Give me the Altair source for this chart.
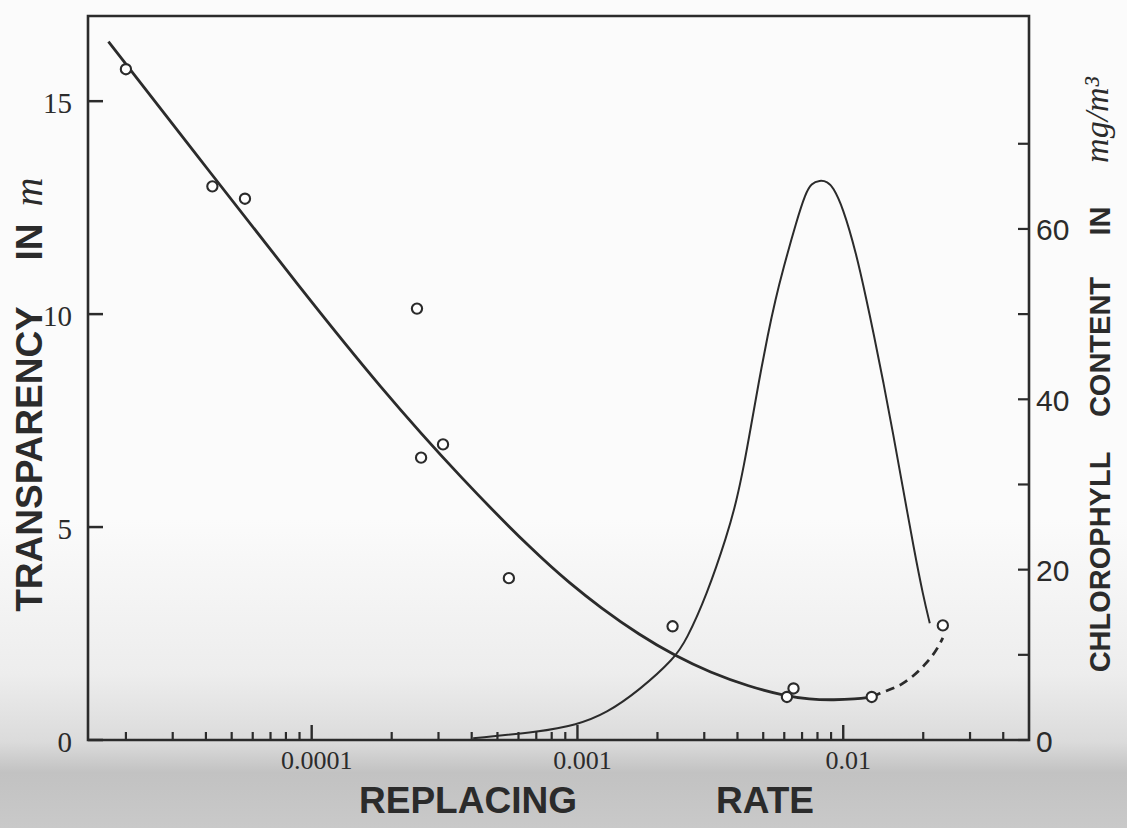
import altair as alt
import pandas as pd

# ---------------- data ----------------
# transparency observations (open circles)
obs_rate = [2.0e-5, 4.23e-5, 5.61e-5, 2.49e-4, 2.58e-4, 3.12e-4, 5.52e-4,
            2.28e-3, 6.14e-3, 6.5e-3, 1.28e-2, 2.37e-2]
obs_transp = [15.75, 13.0, 12.71, 10.13, 6.63, 6.94, 3.80,
              2.67, 1.01, 1.21, 1.01, 2.69]

# transparency fitted curve (solid)
fit_rate = [1.719e-5, 4.147e-5, 9.04e-5, 1.806e-4, 3.715e-4, 7.015e-4,
            9.36e-4, 1.213e-3, 1.715e-3, 2.342e-3, 3.144e-3, 4.444e-3,
            5.93e-3, 7.47e-3, 9.28e-3, 1.103e-2, 1.285e-2]
fit_transp = [16.40, 13.33, 10.62, 8.28, 6.09, 4.36,
              3.68, 3.12, 2.46, 1.97, 1.59, 1.25,
              1.05, 0.95, 0.94, 0.96, 1.01]

# transparency extrapolation (dashed)
ext_rate = [1.285e-2, 1.369e-2, 1.675e-2, 1.992e-2, 2.30e-2, 2.37e-2]
ext_transp = [1.01, 1.09, 1.33, 1.72, 2.24, 2.40]

# chlorophyll curve (right axis, mg/m3)
chl_rate = [4.05e-4, 7.22e-4, 9.91e-4, 1.285e-3, 1.714e-3, 2.32e-3, 2.567e-3,
            3.050e-3, 3.677e-3, 3.973e-3, 4.222e-3, 4.494e-3, 4.800e-3,
            5.212e-3, 5.551e-3, 5.924e-3, 6.687e-3, 7.215e-3, 7.58e-3,
            8.15e-3, 8.73e-3, 9.14e-3, 9.96e-3, 1.120e-2, 1.224e-2,
            1.301e-2, 1.419e-2, 1.540e-2, 1.665e-2, 1.848e-2, 2.002e-2,
            2.117e-2]
chl_mg = [0.20, 0.97, 1.76, 3.13, 5.87, 9.59, 11.74,
          16.82, 24.26, 28.17, 32.08, 36.77, 41.87,
          47.73, 51.64, 55.16, 61.03, 64.17, 65.34,
          65.73, 65.55, 64.94, 62.59, 57.12, 51.64,
          47.73, 41.87, 36.00, 30.13, 22.30, 16.82,
          13.70]

# axes
x_major = [1e-4, 1e-3, 1e-2]
x_minor = [2e-5, 3e-5, 4e-5, 5e-5, 6e-5, 7e-5, 8e-5, 9e-5,
           2e-4, 3e-4, 4e-4, 5e-4, 6e-4, 7e-4, 8e-4, 9e-4,
           2e-3, 3e-3, 4e-3, 5e-3, 6e-3, 7e-3, 8e-3, 9e-3,
           2e-2, 3e-2, 4e-2]
x_labels = ["0.0001", "0.001", "0.01"]
left_ticks = [0, 5, 10, 15]
left_labels = ["0", "5", "10", "15"]
right_ticks = [0, 10, 20, 30, 40, 50, 60, 70]
right_label_vals = [0, 20, 40, 60]
right_labels = ["0", "20", "40", "60"]

X_DOMAIN = [1.44e-5, 0.05]
Y_LEFT = [0, 17]
Y_RIGHT = [0, 85]

# ---------------- style ----------------
W, H = 941, 724
INK = "#2b2b2b"
SANS = "Liberation Sans"
SERIF = "Liberation Serif"

xscale = alt.Scale(type="log", domain=X_DOMAIN, nice=False)
yl_scale = alt.Scale(domain=Y_LEFT, nice=False, zero=True)
yr_scale = alt.Scale(domain=Y_RIGHT, nice=False, zero=True)

X = lambda: alt.X("rate:Q", scale=xscale, axis=None)
YL = lambda f="t": alt.Y(f"{f}:Q", scale=yl_scale, axis=None)
YR = lambda f="c": alt.Y(f"{f}:Q", scale=yr_scale, axis=None)

fit_df = pd.DataFrame({"rate": fit_rate, "t": fit_transp})
ext_df = pd.DataFrame({"rate": ext_rate, "t": ext_transp})
obs_df = pd.DataFrame({"rate": obs_rate, "t": obs_transp})
chl_df = pd.DataFrame({"rate": chl_rate, "c": chl_mg})
one = pd.DataFrame({"k": [0]})

# paper shading (photographic tone of the original sheet)
shade = alt.Chart(one).mark_rect(
    color=alt.LinearGradient(
        gradient="linear", x1=0, y1=0, x2=0, y2=1,
        stops=[alt.GradientStop(color="#fbfbfb", offset=0),
               alt.GradientStop(color="#ededed", offset=0.5),
               alt.GradientStop(color="#dbdbdb", offset=0.72),
               alt.GradientStop(color="#c2c2c2", offset=0.82),
               alt.GradientStop(color="#c9c9c9", offset=1)])
).encode(x=alt.value(-88), x2=alt.value(W + 98),
         y=alt.value(H - 220), y2=alt.value(H + 88))

# plot frame
frame = alt.Chart(one).mark_rect(
    fill="transparent", stroke=INK, strokeWidth=2.6
).encode(x=alt.value(0), x2=alt.value(W), y=alt.value(0), y2=alt.value(H))

fit_line = alt.Chart(fit_df).mark_line(
    color=INK, strokeWidth=2.8, interpolate="basis"
).encode(x=X(), y=YL(), order="rate:Q")

ext_line = alt.Chart(ext_df).mark_line(
    color=INK, strokeWidth=2.8, strokeDash=[9, 6], interpolate="monotone"
).encode(x=X(), y=YL(), order="rate:Q")

obs_pts = alt.Chart(obs_df).mark_point(
    shape="circle", filled=True, fill="white", stroke=INK, strokeWidth=2.1,
    size=105, opacity=1, fillOpacity=1
).encode(x=X(), y=YL())

left_tick_marks = alt.Chart(pd.DataFrame({"t": left_ticks})).mark_rule(
    color=INK, strokeWidth=2.5
).encode(y=YL(), x=alt.value(0), x2=alt.value(15))

left_tick_text = alt.Chart(
    pd.DataFrame({"t": left_ticks, "lab": left_labels})
).mark_text(font=SERIF, fontSize=29, color=INK, align="right",
            baseline="alphabetic", dy=12).encode(
    y=YL(), x=alt.value(-16), text="lab:N")

chl_line = alt.Chart(chl_df).mark_line(
    color=INK, strokeWidth=2.0, interpolate="basis"
).encode(x=X(), y=YR(), order="rate:Q")

right_tick_marks = alt.Chart(pd.DataFrame({"c": right_ticks})).mark_rule(
    color=INK, strokeWidth=2.2
).encode(y=YR(), x=alt.value(W - 11), x2=alt.value(W))

right_tick_text = alt.Chart(
    pd.DataFrame({"c": right_label_vals, "lab": right_labels})
).mark_text(font=SANS, fontSize=30, color=INK, align="left",
            baseline="alphabetic", dy=11.5).encode(
    y=YR(), x=alt.value(W + 7), text="lab:N")

x_major_marks = alt.Chart(pd.DataFrame({"rate": x_major})).mark_rule(
    color=INK, strokeWidth=2.4
).encode(x=X(), y=alt.value(H), y2=alt.value(H - 15))

x_minor_marks = alt.Chart(pd.DataFrame({"rate": x_minor})).mark_rule(
    color=INK, strokeWidth=2.2
).encode(x=X(), y=alt.value(H), y2=alt.value(H - 8))

x_tick_text = alt.Chart(
    pd.DataFrame({"rate": x_major, "lab": x_labels})
).mark_text(font=SERIF, fontSize=26, color=INK, align="center",
            baseline="alphabetic", dx=5).encode(
    x=X(), y=alt.value(H + 29), text="lab:N")


def text(s, x, y, size, angle=0, font=SANS, weight="bold", style="normal",
         align="center", baseline="alphabetic"):
    return alt.Chart(pd.DataFrame({"s": [s]})).mark_text(
        font=font, fontSize=size, fontWeight=weight, fontStyle=style,
        angle=angle, align=align, baseline=baseline, color=INK
    ).encode(x=alt.value(x), y=alt.value(y), text="s:N")


titles = [
    text("REPLACING", 380, 797, 37),
    text("RATE", 677, 797, 37),
    text("TRANSPARENCY", -46, 443, 37, angle=270),
    text("IN", -46, 226, 37, angle=270),
    text("m", -46, 176, 40, angle=270, font=SERIF, weight="normal",
         style="italic"),
    text("CHLOROPHYLL", 1022, 546, 29, angle=270),
    text("CONTENT", 1022, 331, 29, angle=270),
    text("IN", 1022, 205, 29, angle=270),
    text("mg/m\u00b3", 1020, 104, 34, angle=270, font=SERIF, weight="normal",
         style="italic"),
]

left_group = alt.layer(fit_line, ext_line, left_tick_marks, left_tick_text,
                       obs_pts)
right_group = alt.layer(chl_line, right_tick_marks, right_tick_text)

chart = alt.layer(
    shade, frame, right_group, left_group, x_major_marks, x_minor_marks,
    x_tick_text, *titles
).resolve_scale(y="independent").properties(
    width=W, height=H,
    autosize=alt.AutoSizeParams(type="none"),
    padding={"left": 88, "top": 16, "right": 98, "bottom": 88},
    background="#fbfbfb",
).configure_view(stroke="transparent")

chart.save("out.html", embed_options={"renderer": "svg", "actions": False})
